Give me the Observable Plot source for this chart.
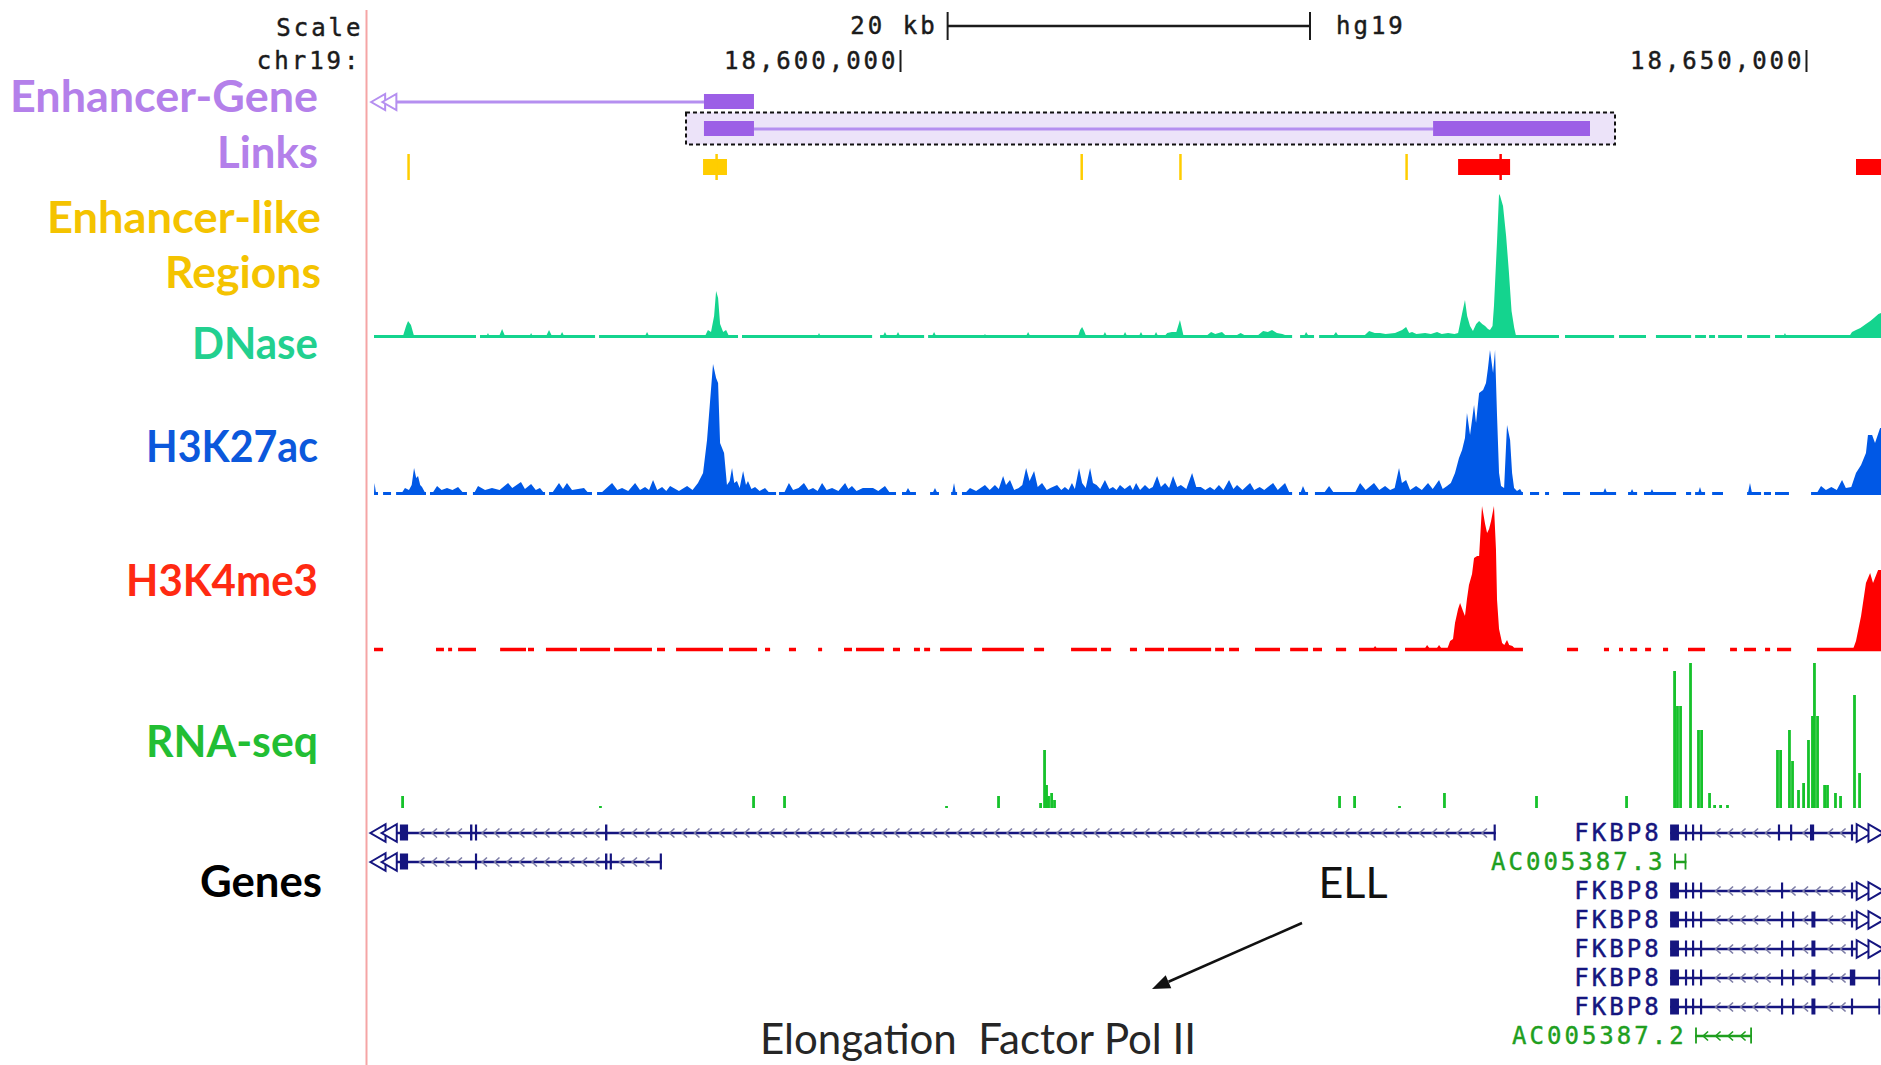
<!DOCTYPE html>
<html>
<head>
<meta charset="utf-8">
<script src="https://cdn.jsdelivr.net/npm/d3@7"></script>
<script src="https://cdn.jsdelivr.net/npm/@observablehq/plot@0.6"></script>
<style>
  html, body { margin: 0; padding: 0; background: #fff; }
  #page { position: relative; width: 1881px; height: 1065px; overflow: hidden; background: #fff; }
</style>
</head>
<body>
<div id="page"></div>
<script>
// ---------------------------------------------------------------------------
// Browser window: chr19 (hg19), positions in kb
// ---------------------------------------------------------------------------
const VIEW = [18570.97, 18654.14];
const coordTicks = [18600, 18650];
const scaleBarStart = 18602.6;
const scaleBarKb = 20;
const assembly = "hg19";

const trackNames = [
  ["Enhancer-Gene", "Links"],
  ["Enhancer-like", "Regions"],
  ["DNase"],
  ["H3K27ac"],
  ["H3K4me3"],
  ["RNA-seq"],
  ["Genes"]
];

// Enhancer-gene links: [row, start, end]
const linkBlocks = [
  ["link1", 18589.18, 18591.94],
  ["link2", 18589.18, 18591.94],
  ["link2", 18629.42, 18638.08]
];
const linkLines = [
  ["link1", 18570.97, 18589.18],
  ["link2", 18591.94, 18629.42]
];
const linkHighlight = [["link2", 18588.19, 18639.46]];
const linkOpenEnds = [["link1", 18571.30], ["link1", 18571.92]];

// Candidate regulatory elements: [start, end, type, summit]
const ccres = [
  [18572.82, 18572.88, "ELS", 18572.85],
  [18589.13, 18590.45, "ELS", 18589.85],
  [18609.97, 18610.03, "ELS", 18610.00],
  [18615.42, 18615.48, "ELS", 18615.45],
  [18627.90, 18627.96, "ELS", 18627.93],
  [18630.80, 18633.67, "PLS", 18633.12],
  [18652.76, 18654.14, "PLS", null]
];

// DNase signal: covered intervals and [position, value]
const dnaseCovered = [
  [18570.97, 18576.60], [18576.82, 18583.17], [18583.39, 18591.06], [18591.28, 18598.46],
  [18598.90, 18601.33], [18601.55, 18621.64], [18622.08, 18622.85], [18623.13, 18636.37],
  [18636.70, 18639.41], [18639.68, 18641.17], [18641.72, 18643.66], [18643.88, 18644.48],
  [18644.65, 18644.98], [18645.15, 18646.47], [18646.75, 18648.02], [18648.29, 18654.14]
];
const dnaseSignal = [
  [18572.57, 0], [18572.74, 10], [18572.85, 15], [18573.01, 11], [18573.18, 0],
  [18577.18, 0], [18577.26, 3], [18577.34, 0],
  [18577.88, 0], [18578.04, 7], [18578.20, 0],
  [18579.56, 0], [18579.64, 3], [18579.72, 0],
  [18580.47, 0], [18580.63, 6], [18580.79, 0],
  [18581.24, 0], [18581.35, 4], [18581.46, 0],
  [18585.93, 0], [18586.04, 4], [18586.15, 0],
  [18589.24, 0], [18589.40, 6], [18589.57, 4], [18589.74, 20], [18589.85, 45], [18589.96, 38],
  [18590.07, 12], [18590.24, 4], [18590.40, 6], [18590.56, 0],
  [18595.45, 0], [18595.53, 3], [18595.61, 0],
  [18599.06, 0], [18599.17, 4], [18599.28, 0],
  [18599.78, 0], [18599.89, 4], [18600.00, 0],
  [18601.77, 0], [18601.88, 4], [18601.99, 0],
  [18604.61, 0], [18604.69, 2], [18604.77, 0],
  [18606.96, 0], [18607.07, 4], [18607.18, 0],
  [18609.83, 0], [18609.94, 6], [18610.05, 9], [18610.16, 5], [18610.27, 0],
  [18611.20, 0], [18611.31, 4], [18611.42, 0],
  [18612.31, 0], [18612.42, 4], [18612.53, 0],
  [18613.19, 0], [18613.30, 4], [18613.41, 0],
  [18614.02, 0], [18614.13, 4], [18614.24, 0],
  [18614.60, 0], [18614.75, 3], [18615.00, 4], [18615.25, 4], [18615.35, 10], [18615.45, 16],
  [18615.55, 8], [18615.65, 0],
  [18616.90, 0], [18617.17, 4], [18617.40, 2], [18617.77, 4], [18618.00, 0],
  [18618.50, 0], [18618.80, 3], [18619.10, 0],
  [18619.70, 0], [18620.04, 5], [18620.30, 4], [18620.53, 6], [18620.80, 3], [18621.10, 2], [18621.40, 0],
  [18622.30, 0], [18622.41, 4], [18622.55, 0],
  [18623.90, 0], [18624.06, 4], [18624.20, 0],
  [18625.60, 0], [18625.89, 5], [18626.20, 3], [18626.49, 3], [18626.80, 2], [18627.32, 3],
  [18627.71, 6], [18627.93, 9], [18628.10, 3], [18628.26, 4], [18628.50, 2], [18628.98, 3],
  [18629.30, 2], [18629.64, 4], [18629.90, 2], [18630.25, 3], [18630.60, 2],
  [18630.80, 3], [18631.05, 25], [18631.18, 36], [18631.30, 20], [18631.46, 10], [18631.62, 5],
  [18631.80, 12], [18631.96, 15], [18632.13, 12], [18632.29, 10], [18632.45, 7], [18632.56, 6],
  [18632.70, 10], [18632.78, 30], [18632.95, 95], [18633.06, 142], [18633.12, 140], [18633.28, 130],
  [18633.45, 100], [18633.60, 65], [18633.75, 25], [18633.90, 8], [18634.00, 0],
  [18648.76, 0], [18648.84, 3], [18648.92, 0],
  [18652.40, 0], [18652.54, 4], [18652.76, 6], [18653.00, 8], [18653.31, 12], [18653.55, 15],
  [18653.75, 18], [18654.00, 22], [18654.14, 23]
];

// H3K27ac signal
const h3k27acCovered = [
  [18570.97, 18571.19], [18571.47, 18571.91], [18572.19, 18573.84], [18574.06, 18576.10],
  [18576.43, 18580.41], [18580.63, 18583.00], [18583.28, 18593.16], [18593.32, 18599.78],
  [18600.11, 18600.88], [18601.66, 18602.15], [18602.82, 18603.15], [18603.42, 18621.64],
  [18622.02, 18622.52], [18622.90, 18634.38], [18634.77, 18635.27], [18635.60, 18635.82],
  [18636.59, 18637.53], [18638.08, 18639.52], [18640.18, 18640.68], [18641.06, 18642.83],
  [18643.38, 18643.66], [18643.88, 18644.43], [18644.82, 18645.42], [18646.75, 18647.52],
  [18647.68, 18648.07], [18648.29, 18649.06], [18650.28, 18654.14]
];
const h3k27acSignal = [
  [18570.97, 0], [18571.00, 10], [18571.08, 0],
  [18572.50, 0], [18572.68, 5], [18572.90, 3], [18573.05, 8], [18573.18, 25], [18573.30, 15],
  [18573.40, 17], [18573.52, 8], [18573.62, 6], [18573.80, 0],
  [18574.20, 0], [18574.45, 7], [18574.70, 3], [18575.00, 5], [18575.30, 3], [18575.61, 6], [18575.90, 0],
  [18576.50, 0], [18576.71, 7], [18577.10, 3], [18577.48, 5], [18577.90, 3], [18578.37, 10],
  [18578.60, 5], [18578.92, 9], [18579.08, 11], [18579.30, 4], [18579.64, 9], [18579.90, 3],
  [18580.13, 5], [18580.35, 0],
  [18580.80, 0], [18581.18, 10], [18581.40, 4], [18581.62, 10], [18581.90, 3], [18582.56, 5], [18582.80, 0],
  [18583.50, 0], [18584.11, 10], [18584.40, 3], [18584.66, 5], [18585.00, 2], [18585.38, 10],
  [18585.65, 3], [18585.93, 6], [18586.15, 3], [18586.37, 13], [18586.60, 3], [18586.87, 6],
  [18587.10, 2], [18587.31, 7], [18587.80, 2], [18588.25, 7], [18588.55, 3], [18588.85, 10],
  [18589.13, 20], [18589.35, 53], [18589.51, 90], [18589.68, 129], [18589.85, 115], [18589.96, 110],
  [18590.07, 50], [18590.29, 40], [18590.45, 8], [18590.60, 12], [18590.73, 25], [18590.85, 10],
  [18591.00, 12], [18591.15, 5], [18591.34, 22], [18591.50, 8], [18591.61, 12], [18591.80, 4],
  [18592.00, 6], [18592.25, 2], [18592.55, 5], [18592.80, 0],
  [18593.60, 0], [18593.87, 10], [18594.10, 3], [18594.40, 5], [18594.70, 10], [18594.95, 3],
  [18595.20, 5], [18595.45, 2], [18595.70, 10], [18595.95, 3], [18596.25, 5], [18596.60, 2],
  [18596.97, 10], [18597.15, 4], [18597.35, 7], [18597.60, 2], [18597.95, 5], [18598.51, 5],
  [18598.80, 2], [18599.17, 7], [18599.45, 0],
  [18600.30, 0], [18600.44, 5], [18600.60, 0],
  [18601.80, 0], [18601.93, 5], [18602.06, 0],
  [18602.88, 0], [18602.98, 10], [18603.08, 0],
  [18603.60, 0], [18603.86, 5], [18604.20, 2], [18604.69, 8], [18604.95, 3], [18605.24, 8],
  [18605.45, 4], [18605.69, 17], [18605.85, 8], [18606.07, 13], [18606.30, 3], [18606.55, 5],
  [18606.75, 8], [18606.96, 25], [18607.15, 12], [18607.40, 22], [18607.60, 6], [18607.84, 10],
  [18608.10, 3], [18608.30, 5], [18608.67, 8], [18608.90, 3], [18609.10, 6], [18609.30, 3],
  [18609.49, 10], [18609.65, 4], [18609.88, 25], [18610.05, 10], [18610.25, 5], [18610.49, 25],
  [18610.65, 10], [18610.85, 8], [18611.05, 4], [18611.31, 13], [18611.55, 4], [18611.75, 6],
  [18611.95, 3], [18612.14, 8], [18612.40, 4], [18612.70, 8], [18612.85, 3], [18613.03, 10],
  [18613.25, 3], [18613.52, 8], [18613.75, 4], [18613.95, 6], [18614.19, 17], [18614.40, 6],
  [18614.63, 10], [18614.85, 5], [18615.07, 17], [18615.30, 6], [18615.50, 8], [18615.80, 4],
  [18616.12, 20], [18616.35, 6], [18616.60, 6], [18616.85, 3], [18617.11, 6], [18617.35, 3],
  [18617.60, 8], [18617.85, 3], [18618.16, 13], [18618.40, 4], [18618.60, 8], [18618.90, 3],
  [18619.32, 10], [18619.55, 3], [18619.85, 6], [18620.10, 3], [18620.59, 10], [18620.85, 3],
  [18621.25, 10], [18621.50, 0],
  [18622.10, 0], [18622.24, 7], [18622.40, 0],
  [18623.40, 0], [18623.68, 7], [18623.95, 0],
  [18625.10, 0], [18625.39, 10], [18625.70, 3], [18626.16, 10], [18626.45, 3], [18626.77, 7],
  [18627.05, 3], [18627.30, 5], [18627.54, 25], [18627.70, 10], [18627.93, 13], [18628.15, 3],
  [18628.48, 7], [18628.80, 3], [18629.14, 10], [18629.40, 4], [18629.75, 13], [18629.95, 4],
  [18630.19, 7], [18630.40, 10], [18630.63, 20], [18630.85, 35], [18631.02, 43], [18631.18, 55],
  [18631.29, 80], [18631.46, 58], [18631.68, 88], [18631.79, 70], [18631.96, 100], [18632.18, 103],
  [18632.34, 110], [18632.45, 125], [18632.56, 143], [18632.73, 120], [18632.84, 143], [18632.95, 77],
  [18633.06, 20], [18633.17, 7], [18633.34, 5], [18633.50, 68], [18633.67, 53], [18633.78, 20],
  [18633.89, 5], [18634.05, 2], [18634.22, 4], [18634.35, 0],
  [18638.80, 0], [18638.91, 5], [18639.02, 0],
  [18640.30, 0], [18640.40, 4], [18640.50, 0],
  [18641.40, 0], [18641.50, 4], [18641.60, 0],
  [18644.05, 0], [18644.15, 6], [18644.25, 0],
  [18646.80, 0], [18646.91, 10], [18647.02, 0],
  [18650.60, 0], [18650.83, 7], [18651.10, 3], [18651.40, 6], [18651.70, 3], [18651.99, 13],
  [18652.20, 5], [18652.50, 6], [18652.76, 20], [18653.04, 28], [18653.31, 40], [18653.42, 58],
  [18653.65, 58], [18653.81, 50], [18654.09, 65], [18654.14, 65]
];

// H3K4me3 signal
const h3k4me3Covered = [
  [18570.97, 18571.47], [18574.39, 18574.83], [18575.06, 18575.28], [18575.61, 18576.60],
  [18577.93, 18579.36], [18579.47, 18579.80], [18580.46, 18582.17], [18582.34, 18584.00],
  [18584.22, 18586.31], [18586.59, 18587.03], [18587.64, 18590.23], [18590.56, 18592.11],
  [18592.55, 18592.83], [18593.87, 18594.26], [18595.48, 18595.70], [18596.91, 18597.35],
  [18597.57, 18599.12], [18599.61, 18600.00], [18600.77, 18601.10], [18601.33, 18601.66],
  [18602.21, 18603.97], [18604.53, 18606.84], [18607.40, 18607.95], [18609.44, 18610.87],
  [18611.09, 18611.65], [18612.69, 18613.08], [18613.52, 18614.57], [18614.79, 18617.17],
  [18617.39, 18617.88], [18618.16, 18618.71], [18619.59, 18620.97], [18621.53, 18622.52],
  [18622.79, 18623.29], [18624.06, 18624.62], [18625.33, 18627.43], [18627.87, 18634.38],
  [18636.81, 18637.42], [18638.85, 18639.13], [18639.68, 18639.90], [18640.29, 18640.68],
  [18641.12, 18641.45], [18642.11, 18642.39], [18643.49, 18644.43], [18645.81, 18646.19],
  [18646.58, 18647.24], [18647.74, 18648.02], [18648.40, 18649.18], [18650.61, 18654.14]
];
const h3k4me3Signal = [
  [18626.10, 0], [18626.22, 3], [18626.34, 0],
  [18628.95, 0], [18629.09, 4], [18629.25, 0], [18629.60, 0], [18629.75, 4], [18629.90, 0],
  [18630.20, 0], [18630.36, 8], [18630.52, 10], [18630.63, 26], [18630.80, 40], [18630.91, 46],
  [18631.07, 38], [18631.18, 33], [18631.29, 50], [18631.40, 64], [18631.57, 75], [18631.68, 91],
  [18631.85, 93], [18631.96, 93], [18632.12, 143], [18632.29, 125], [18632.40, 116], [18632.51, 120],
  [18632.62, 128], [18632.78, 143], [18632.89, 100], [18632.95, 49], [18633.06, 20], [18633.23, 6],
  [18633.35, 4], [18633.50, 9], [18633.62, 4], [18633.80, 3], [18633.95, 0],
  [18652.60, 0], [18652.76, 8], [18653.04, 33], [18653.31, 66], [18653.54, 76], [18653.70, 66],
  [18653.98, 79], [18654.14, 79]
];

// RNA-seq coverage spikes: [position, value]
const rnaSignal = [
  [18572.52, 12], [18583.44, 2], [18591.89, 12], [18593.60, 12], [18602.54, 2], [18605.41, 12],
  [18607.73, 5], [18607.95, 58], [18608.06, 23], [18608.17, 12], [18608.34, 15], [18608.50, 8],
  [18624.23, 12], [18625.06, 12], [18627.54, 2], [18630.02, 15], [18635.10, 12], [18640.07, 12],
  [18642.72, 137], [18642.88, 102], [18643.05, 102], [18643.60, 145], [18644.04, 78], [18644.21, 78],
  [18644.65, 15], [18644.93, 3], [18645.26, 3], [18645.64, 3],
  [18648.40, 58], [18648.57, 58], [18649.06, 78], [18649.23, 47], [18649.56, 18], [18649.84, 25],
  [18650.11, 68], [18650.33, 92], [18650.44, 145], [18650.61, 92], [18651.00, 23], [18651.16, 23],
  [18651.60, 15], [18651.88, 12], [18652.65, 113], [18652.93, 35]
];

// Gene models: [name, row, txStart, txEnd]
const geneRows = ["g0", "g1", "g2", "g3", "g4", "g5", "g6", "g7"];
const transcripts = [
  ["ELL", "g0", 18570.97, 18632.88],
  ["ELL", "g1", 18570.97, 18586.86],
  ["FKBP8", "g0", 18642.50, 18654.14],
  ["AC005387.3", "g1", 18642.72, 18643.40],
  ["FKBP8", "g2", 18642.50, 18654.14],
  ["FKBP8", "g3", 18642.50, 18654.14],
  ["FKBP8", "g4", 18642.50, 18654.14],
  ["FKBP8", "g5", 18642.50, 18654.09],
  ["FKBP8", "g6", 18642.50, 18654.09],
  ["AC005387.2", "g7", 18643.88, 18647.02]
];
// Exons: [row, start, end]
const exons = [
  ["g0", 18572.40, 18572.85], ["g0", 18576.27, 18576.40], ["g0", 18576.54, 18576.66],
  ["g0", 18583.72, 18583.85], ["g0", 18632.76, 18632.88],
  ["g1", 18572.40, 18572.85], ["g1", 18576.54, 18576.66], ["g1", 18583.72, 18583.85],
  ["g1", 18583.98, 18584.10], ["g1", 18586.74, 18586.86],
  ["g0", 18642.50, 18642.99], ["g0", 18643.32, 18643.44], ["g0", 18643.71, 18643.83],
  ["g0", 18644.15, 18644.27], ["g0", 18648.45, 18648.57], ["g0", 18649.12, 18649.24],
  ["g0", 18650.22, 18650.45], ["g0", 18652.48, 18652.60],
  ["g1", 18642.72, 18642.82], ["g1", 18643.30, 18643.40],
  ["g2", 18642.50, 18642.99], ["g2", 18643.32, 18643.44], ["g2", 18643.71, 18643.83],
  ["g2", 18644.15, 18644.27], ["g2", 18648.62, 18648.74], ["g2", 18652.48, 18652.60],
  ["g3", 18642.50, 18642.99], ["g3", 18643.32, 18643.44], ["g3", 18643.71, 18643.83],
  ["g3", 18644.15, 18644.27], ["g3", 18648.62, 18648.74], ["g3", 18649.23, 18649.35],
  ["g3", 18650.30, 18650.52], ["g3", 18652.48, 18652.60],
  ["g4", 18642.50, 18642.99], ["g4", 18643.32, 18643.44], ["g4", 18643.71, 18643.83],
  ["g4", 18644.15, 18644.27], ["g4", 18648.62, 18648.74], ["g4", 18649.23, 18649.35],
  ["g4", 18650.30, 18650.52], ["g4", 18652.48, 18652.60],
  ["g5", 18642.50, 18642.99], ["g5", 18643.32, 18643.44], ["g5", 18643.71, 18643.83],
  ["g5", 18644.15, 18644.27], ["g5", 18648.62, 18648.74], ["g5", 18649.23, 18649.35],
  ["g5", 18650.30, 18650.52], ["g5", 18652.42, 18652.72], ["g5", 18653.99, 18654.09],
  ["g6", 18642.50, 18642.99], ["g6", 18643.32, 18643.44], ["g6", 18643.71, 18643.83],
  ["g6", 18644.15, 18644.27], ["g6", 18648.62, 18648.74], ["g6", 18649.23, 18649.35],
  ["g6", 18650.30, 18650.52], ["g6", 18652.48, 18652.60], ["g6", 18653.99, 18654.09],
  ["g7", 18643.88, 18643.98], ["g7", 18646.92, 18647.02]
];
// Transcripts running past the window edge: [row, position, direction]
const geneOpenEnds = [
  ["g0", 18571.30, "left"], ["g0", 18571.92, "left"],
  ["g1", 18571.30, "left"], ["g1", 18571.92, "left"],
  ["g0", 18653.05, "right"], ["g0", 18653.70, "right"],
  ["g2", 18653.05, "right"], ["g2", 18653.70, "right"],
  ["g3", 18653.05, "right"], ["g3", 18653.70, "right"],
  ["g4", 18653.05, "right"], ["g4", 18653.70, "right"]
];

const calloutGene = "ELL";
const calloutText = "Elongation  Factor Pol II";

// ---------------------------------------------------------------------------
// Styling
// ---------------------------------------------------------------------------
const W = 1881, H = 1065;
const X0 = 374;
const MONO = "DejaVu Sans Mono";
const MONO_SIZE = 24;
const LABEL_FONT = "Lato";
const C = {
  links: "#9c5fe6", linkLine: "#b58ff0", linkLabel: "#b480ea", highlight: "#ece3f9",
  els: "#ffcd00", pls: "#ff0000", ccreLabel: "#f4c300",
  dnase: "#14d48e", dnaseLabel: "#22d08f",
  k27: "#0058e6", k27Label: "#0b58dc",
  k4: "#ff0000", k4Label: "#ff2a12",
  rna: "#16c22b", rnaLabel: "#22be33",
  gene: "#15157f", geneAlt: "#1f9f1f", intron: "#7d7da6",
  text: "#1b1b1b", guide: "#f5a5a5"
};

const page = document.getElementById("page");
function mount(svg, top, spacing) {
  svg.style.position = "absolute";
  svg.style.left = "0px";
  svg.style.top = top + "px";
  svg.style.overflow = "visible";
  if (spacing) svg.style.letterSpacing = spacing;
  page.appendChild(svg);
}
const baseX = {domain: VIEW, axis: null};
const frame = {width: W, marginLeft: X0, marginRight: 0};
const band = (domain, range) => ({type: "band", domain, range, padding: 0, axis: null});
const mono = (fill) => ({fontFamily: MONO, fontSize: MONO_SIZE, fill, stroke: fill, strokeWidth: 0.45});

// Chevron glyph for intron direction
const chevronLeft = {
  draw(ctx, size) {
    const r = Math.sqrt(size / Math.PI);
    ctx.moveTo(r * 0.55, -r);
    ctx.lineTo(-r * 0.55, 0);
    ctx.lineTo(r * 0.55, r);
  }
};

// ---------------------------------------------------------------------------
// Header: scale bar and chromosome coordinates
// ---------------------------------------------------------------------------
const scaleRow = [{row: "scale", start: scaleBarStart, end: scaleBarStart + scaleBarKb}];
const fmtCoord = d => d3.format(",")(Math.round(d * 1000));
mount(Plot.plot({
  ...frame, height: 80, marginTop: 0, marginBottom: 0,
  x: baseX,
  y: band(["scale", "position"], [8, 78]),
  marks: [
    Plot.ruleY(scaleRow, {x1: "start", x2: "end", y: "row", stroke: C.text, strokeWidth: 2.5}),
    Plot.tickX(scaleRow.flatMap(d => [d.start, d.end]), {x: d => d, y: () => "scale", insetTop: 4, insetBottom: 3, stroke: C.text, strokeWidth: 2}),
    Plot.text(scaleRow, {x: "start", y: "row", text: () => `${scaleBarKb} kb`, textAnchor: "end", dx: -10, ...mono(C.text)}),
    Plot.text(scaleRow, {x: "end", y: "row", text: () => assembly, textAnchor: "start", dx: 26, ...mono(C.text)}),
    Plot.text(["Scale"], {x: VIEW[0], y: () => "scale", text: d => d, textAnchor: "end", dx: -11, dy: 2, ...mono(C.text)}),
    Plot.text(["chr19:"], {x: VIEW[0], y: () => "position", text: d => d, textAnchor: "end", dx: -13, ...mono(C.text)}),
    Plot.tickX(coordTicks, {x: d => d, y: () => "position", insetTop: 7, insetBottom: 6, stroke: C.text, strokeWidth: 2}),
    Plot.text(coordTicks, {x: d => d, y: () => "position", text: fmtCoord, textAnchor: "end", dx: -2, ...mono(C.text)})
  ]
}), 0, "3px");

// ---------------------------------------------------------------------------
// Enhancer-gene links
// ---------------------------------------------------------------------------
mount(Plot.plot({
  ...frame, height: 70, marginTop: 0, marginBottom: 0,
  x: baseX,
  y: band(["link1", "link2"], [7.5, 61.5]),
  marks: [
    Plot.barX(linkHighlight, {x1: d => d[1], x2: d => d[2], y: d => d[0], insetTop: -2.5, insetBottom: -2.5, fill: C.highlight, stroke: "#111", strokeWidth: 2, strokeDasharray: "4 3"}),
    Plot.ruleY(linkLines, {x1: d => d[1], x2: d => d[2], y: d => d[0], stroke: C.linkLine, strokeWidth: 3}),
    Plot.barX(linkBlocks, {x1: d => d[1], x2: d => d[2], y: d => d[0], insetTop: 6, insetBottom: 6, fill: C.links}),
    Plot.dot(linkOpenEnds, {x: d => d[1], y: d => d[0], symbol: "triangle", rotate: -90, r: 6, fill: "white", stroke: C.linkLine, strokeWidth: 2})
  ]
}), 80);

// ---------------------------------------------------------------------------
// Candidate enhancer / promoter elements
// ---------------------------------------------------------------------------
const ccreColor = t => t === "PLS" ? C.pls : C.els;
mount(Plot.plot({
  ...frame, height: 35, marginTop: 0, marginBottom: 0,
  x: baseX,
  y: band(["ccre"], [4, 30]),
  marks: [
    Plot.barX(ccres.filter(d => d[1] - d[0] > 0.3), {x1: d => d[0], x2: d => d[1], y: () => "ccre", insetTop: 5, insetBottom: 5, fill: d => ccreColor(d[2])}),
    Plot.tickX(ccres.filter(d => d[3] != null), {x: d => d[3], y: () => "ccre", stroke: d => ccreColor(d[2]), strokeWidth: 2.5})
  ]
}), 150);

// ---------------------------------------------------------------------------
// Signal tracks
// ---------------------------------------------------------------------------
function signalTrack(covered, signal, color, top, lineWidth) {
  mount(Plot.plot({
    ...frame, height: 153, marginTop: 4, marginBottom: 4,
    x: baseX,
    y: {domain: [0, 145], axis: null},
    marks: [
      Plot.ruleY(covered, {x1: d => d[0], x2: d => d[1], y: 0, stroke: color, strokeWidth: lineWidth}),
      Plot.areaY(signal, {x: d => d[0], y: d => d[1], fill: color, curve: "linear"})
    ]
  }), top);
}
signalTrack(dnaseCovered, dnaseSignal, C.dnase, 187, 3);
signalTrack(h3k27acCovered, h3k27acSignal, C.k27, 344, 3);
signalTrack(h3k4me3Covered, h3k4me3Signal, C.k4, 500, 3.5);

mount(Plot.plot({
  ...frame, height: 153, marginTop: 4, marginBottom: 4,
  x: baseX,
  y: {domain: [0, 145], axis: null},
  marks: [
    Plot.ruleX(rnaSignal, {x: d => d[0], y1: 0, y2: d => d[1], stroke: C.rna, strokeWidth: 2.8})
  ]
}), 659);

// ---------------------------------------------------------------------------
// Gene models
// ---------------------------------------------------------------------------
const geneColor = name => name.startsWith("AC") ? C.geneAlt : C.gene;
const kbPerPx = (VIEW[1] - VIEW[0]) / (W - X0);
const chevrons = transcripts.flatMap(([name, row, s, e]) => {
  const rowExons = exons.filter(x => x[0] === row);
  return d3.range(s + 10 * kbPerPx, e - 4 * kbPerPx, 12.5 * kbPerPx)
    .filter(p => !rowExons.some(x => p > x[1] - 4 * kbPerPx && p < x[2] + 4 * kbPerPx))
    .filter(p => p > VIEW[0] + 36 * kbPerPx && p < VIEW[1] - 32 * kbPerPx)
    .map(p => ({row, p, name}));
});
const labeled = transcripts.filter(d => d[2] > VIEW[0]);

mount(Plot.plot({
  ...frame, height: 265, marginTop: 0, marginBottom: 0,
  x: baseX,
  y: band(geneRows, [17.4, 250.6]),
  marks: [
    Plot.ruleY(transcripts, {x1: d => d[2], x2: d => d[3], y: d => d[1], stroke: d => geneColor(d[0]), strokeWidth: 2.5}),
    Plot.dot(chevrons, {x: "p", y: "row", symbol: chevronLeft, r: 4.5, fill: "none", stroke: d => d.name.startsWith("AC") ? C.geneAlt : C.intron, strokeWidth: 1.6}),
    Plot.barX(exons, {x1: d => d[1], x2: d => d[2], y: d => d[0], insetTop: 6.5, insetBottom: 6.5, fill: d => (d[0] === "g7" || (d[0] === "g1" && d[1] > 18640)) ? C.geneAlt : C.gene}),
    Plot.dot(geneOpenEnds, {x: d => d[1], y: d => d[0], symbol: "triangle", rotate: d => d[2] === "left" ? -90 : 90, r: 6.5, fill: "white", stroke: C.gene, strokeWidth: 2}),
    Plot.text(labeled, {x: d => d[2], y: d => d[1], text: d => d[0], textAnchor: "end", dx: -9, ...mono(null), fill: d => geneColor(d[0]), stroke: d => geneColor(d[0])})
  ]
}), 800, "3px");

// ---------------------------------------------------------------------------
// Track labels, guide line and callout
// ---------------------------------------------------------------------------
const ov = d3.select(page).append("svg")
  .attr("width", W).attr("height", H)
  .style("position", "absolute").style("left", 0).style("top", 0)
  .style("pointer-events", "none");

ov.append("line").attr("x1", 366.5).attr("x2", 366.5).attr("y1", 10).attr("y2", H)
  .attr("stroke", C.guide).attr("stroke-width", 2);

// baseline, label width and right edge for each line of each track label
const labelLayout = [
  {baselines: [111.5, 167.5], widths: [308, 101], color: C.linkLabel, right: 318},
  {baselines: [232.5, 287.5], widths: [274, 156], color: C.ccreLabel, right: 321},
  {baselines: [358.5], widths: [126], color: C.dnaseLabel, right: 318},
  {baselines: [461.5], widths: [172], color: C.k27Label, right: 318},
  {baselines: [595.5], widths: [192], color: C.k4Label, right: 318},
  {baselines: [756.5], widths: [172], color: C.rnaLabel, right: 318},
  {baselines: [896.5], widths: [122], color: "#000", right: 322}
];
trackNames.forEach((lines, i) => {
  const L = labelLayout[i];
  lines.forEach((t, j) => {
    ov.append("text").attr("x", L.right).attr("y", L.baselines[j])
      .attr("text-anchor", "end").attr("fill", L.color)
      .attr("font-family", LABEL_FONT).attr("font-weight", 700).attr("font-size", 44)
      .attr("textLength", L.widths[j]).attr("lengthAdjust", "spacingAndGlyphs")
      .text(t);
  });
});

ov.append("text").attr("x", 1353).attr("y", 898).attr("text-anchor", "middle")
  .attr("font-family", LABEL_FONT).attr("font-size", 43).attr("fill", "#111")
  .text(calloutGene);
ov.append("text").attr("x", 978).attr("y", 1054).attr("text-anchor", "middle")
  .attr("font-family", LABEL_FONT).attr("font-size", 42).attr("fill", "#262626")
  .style("white-space", "pre")
  .text(calloutText);

// Arrow from the gene name to its description
const a0 = [1302, 923], a1 = [1152, 989];
const len = Math.hypot(a1[0] - a0[0], a1[1] - a0[1]);
const u = [(a1[0] - a0[0]) / len, (a1[1] - a0[1]) / len];
const headL = 18, headW = 7;
const base = [a1[0] - headL * u[0], a1[1] - headL * u[1]];
ov.append("line").attr("x1", a0[0]).attr("y1", a0[1]).attr("x2", base[0]).attr("y2", base[1])
  .attr("stroke", "#111").attr("stroke-width", 2.5);
ov.append("polygon").attr("fill", "#111").attr("points", [
  a1,
  [base[0] - headW * u[1], base[1] + headW * u[0]],
  [base[0] + headW * u[1], base[1] - headW * u[0]]
].map(p => p.join(",")).join(" "));
</script>
</body>
</html>
